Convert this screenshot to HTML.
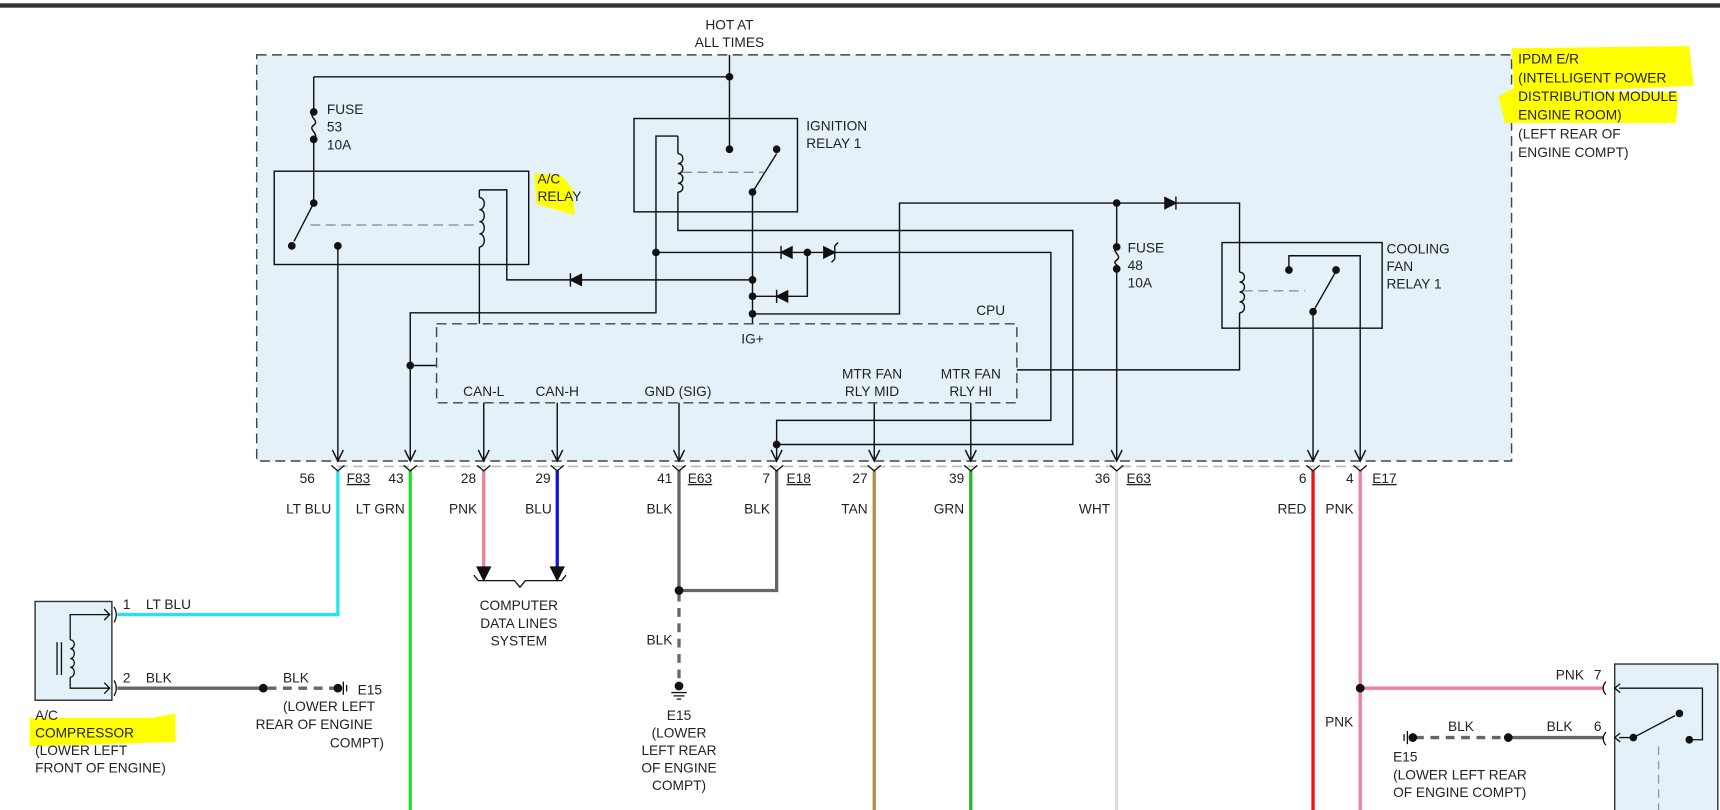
<!DOCTYPE html>
<html><head><meta charset="utf-8"><style>
html,body{margin:0;padding:0;background:#fff;}
svg{display:block;}
text{font-family:"Liberation Sans",sans-serif;font-size:12.5px;fill:#222;}
</style></head><body>
<svg width="1720" height="810" viewBox="0 0 1568 738" preserveAspectRatio="none" xmlns="http://www.w3.org/2000/svg">
<rect x="0" y="3" width="1568" height="4" fill="#333"/>
<rect x="234" y="50" width="1144" height="370" fill="#e4f1f8" stroke="#444" stroke-width="1.3" stroke-dasharray="9,5"/>
<path d="M1378,44 L1540,42 L1544,78 L1420,84 L1530,84 L1528,112 L1372,112 L1366,88 L1380,80 Z" fill="#ffff00"/>
<path d="M487,158 L512,160 L522,172 L524,196 L489,186 Z" fill="#ffff00"/>
<path d="M27,654 L140,654 L160,650 L160,676 L27,680 Z" fill="#ffff00"/>
<text x="665" y="27" text-anchor="middle">HOT AT</text>
<text x="665" y="43" text-anchor="middle">ALL TIMES</text>
<g fill="none" stroke="#111" stroke-width="1.3">
<path d="M665,50 V136"/>
<path d="M286,70 H665"/>
<path d="M286,70 V102 M286,127 V185"/>
<path d="M286,102 c-6,4 6,8 0,12 c-6,4 6,8 0,13"/>
<rect x="250" y="156" width="232" height="85"/>
<path d="M286,185 L268,220"/>
<path d="M308,224 V420"/>
<path d="M437,173 V180 M437,225 V295 M437,173 H462 V255 H686"/>
<path d="M437,180 c6,0 6,11 0,11 c6,0 6,11 0,11 c6,0 6,11 0,11 c6,0 6,12 0,12"/>
<rect x="578" y="108" width="149" height="85"/>
<path d="M618,124 H598 V285 H374 V420"/>
<path d="M618,124 V140 M618,175 V210 H978 V405 H708"/>
<path d="M618,140 c6,0 6,9 0,9 c6,0 6,9 0,9 c6,0 6,9 0,9 c6,0 6,8 0,8"/>
<path d="M686,175 L708,140"/>
<path d="M686,175 V295"/>
<path d="M598,230 H958 V383 H708 V420"/>
<path d="M736,230 V270 H686"/>
<path d="M686,286 H820 V185 H1130 V248 M1130,285 V337 H927"/>
<path d="M1130,248 c6,0 6,9 0,9 c6,0 6,9 0,9 c6,0 6,9 0,9 c6,0 6,10 0,10"/>
<path d="M1018,185 V225 M1018,245 V420"/>
<path d="M1018,225 c-6,4 6,8 0,12 c-6,4 6,5 0,8"/>
<rect x="1114" y="221" width="146" height="78"/>
<path d="M1175,246 V233 H1240 V420"/>
<path d="M1197,284 L1218,247"/>
<path d="M1197,284 V420"/>
<path d="M374,333 H398"/>
<path d="M441,367 V420 M508,367 V420 M619,367 V420 M797,367 V420 M885,367 V420"/>
<path d="M303,410 L308,420 L313,410 M369,410 L374,420 L379,410 M436,410 L441,420 L446,410 M503,410 L508,420 L513,410 M614,410 L619,420 L624,410 M703,410 L708,420 L713,410 M792,410 L797,420 L802,410 M880,410 L885,420 L890,410 M1013,410 L1018,420 L1023,410 M1192,410 L1197,420 L1202,410 M1235,410 L1240,420 L1245,410"/>
</g>
<g fill="none" stroke="#888" stroke-width="1.2" stroke-dasharray="9,5">
<path d="M283,205 H437"/><path d="M622,157 H697"/><path d="M1133,265 H1190"/>
</g>
<rect x="398" y="295" width="529" height="72" fill="none" stroke="#444" stroke-width="1.3" stroke-dasharray="9,5"/>
<g fill="#111" stroke="#111" stroke-width="1.3">
<path d="M520,255 L530,250 V260 Z"/><path d="M520,249 V261"/>
<path d="M712,230 L722,225 V235 Z"/><path d="M712,224 V236"/>
<path d="M761,230 L751,225 V235 Z"/><path d="M761,224 V236 M761,224 l3,-3 M761,236 l-3,3" fill="none"/>
<path d="M708,270 L718,265 V275 Z"/><path d="M708,264 V276"/>
<path d="M1072,185 L1062,180 V190 Z"/><path d="M1072,179 V191"/>
</g>
<g fill="#111">
<circle cx="665" cy="70" r="3.5"/><circle cx="665" cy="136" r="3.5"/>
<circle cx="286" cy="102" r="3.5"/><circle cx="286" cy="127" r="3.5"/>
<circle cx="286" cy="185" r="3.5"/><circle cx="266" cy="224" r="3.5"/><circle cx="308" cy="224" r="3.5"/>
<circle cx="708" cy="136" r="3.5"/><circle cx="686" cy="175" r="3.5"/>
<circle cx="598" cy="230" r="3.5"/><circle cx="736" cy="230" r="3.5"/>
<circle cx="686" cy="255" r="3.5"/><circle cx="686" cy="270" r="3.5"/><circle cx="686" cy="286" r="3.5"/>
<circle cx="374" cy="333" r="3.5"/><circle cx="708" cy="405" r="3.5"/>
<circle cx="1018" cy="185" r="3.5"/><circle cx="1018" cy="225" r="3.5"/><circle cx="1018" cy="245" r="3.5"/>
<circle cx="1175" cy="246" r="3.5"/><circle cx="1218" cy="246" r="3.5"/><circle cx="1197" cy="284" r="3.5"/>
</g>
<text x="298" y="104">FUSE</text><text x="298" y="120">53</text><text x="298" y="136">10A</text>
<text x="490" y="167">A/C</text><text x="490" y="183">RELAY</text>
<text x="735" y="119">IGNITION</text><text x="735" y="135">RELAY 1</text>
<text x="1028" y="230">FUSE</text><text x="1028" y="246">48</text><text x="1028" y="262">10A</text>
<text x="1264" y="231">COOLING</text><text x="1264" y="247">FAN</text><text x="1264" y="263">RELAY 1</text>
<text x="890" y="287">CPU</text><text x="686" y="313" text-anchor="middle">IG+</text>
<text x="441" y="361" text-anchor="middle">CAN-L</text><text x="508" y="361" text-anchor="middle">CAN-H</text>
<text x="618" y="361" text-anchor="middle">GND (SIG)</text>
<text x="795" y="345" text-anchor="middle">MTR FAN</text><text x="795" y="361" text-anchor="middle">RLY MID</text>
<text x="885" y="345" text-anchor="middle">MTR FAN</text><text x="885" y="361" text-anchor="middle">RLY HI</text>
<text x="1384" y="58">IPDM E/R</text><text x="1384" y="75">(INTELLIGENT POWER</text><text x="1384" y="92">DISTRIBUTION MODULE</text><text x="1384" y="109">ENGINE ROOM)</text><text x="1384" y="126">(LEFT REAR OF</text><text x="1384" y="143">ENGINE COMPT)</text>
<path d="M308,425 H1240" stroke="#bbb" stroke-width="1.5" stroke-dasharray="9,5"/>
<g fill="none" stroke-width="3">
<path d="M308,428 V560 H107" stroke="#22e4f0"/>
<path d="M374,428 V738" stroke="#22dd22"/>
<path d="M441,428 V518" stroke="#f08098"/>
<path d="M508,428 V518" stroke="#1010ee"/>
<path d="M619,428 V538" stroke="#666"/>
<path d="M708,428 V538 H622" stroke="#666"/>
<path d="M797,428 V738" stroke="#b08a4a"/>
<path d="M885,428 V738" stroke="#22bb22"/>
<path d="M1018,428 V738" stroke="#dddddd"/>
<path d="M1197,428 V738" stroke="#ee1111"/>
<path d="M1240,428 V738 M1240,627 H1462" stroke="#f08098"/>
<path d="M107,627 H240 M1375,672 H1462" stroke="#666"/>
<path d="M619,540 V622 M244,627 H305 M1290,672 H1372" stroke="#666" stroke-dasharray="8,6"/>
</g>
<g fill="none" stroke="#111" stroke-width="1.2">
<path d="M302,424 l6,5 l6,-5 M368,424 l6,5 l6,-5 M435,424 l6,5 l6,-5 M502,424 l6,5 l6,-5 M613,424 l6,5 l6,-5 M702,424 l6,5 l6,-5 M791,424 l6,5 l6,-5 M879,424 l6,5 l6,-5 M1012,424 l6,5 l6,-5 M1191,424 l6,5 l6,-5 M1234,424 l6,5 l6,-5"/>
<path d="M432,524 l4,5 h33 l5,6 l5,-6 h33 l4,-5"/>
</g>
<g fill="#111">
<path d="M434,516 H448 L441,530 Z"/><path d="M501,516 H515 L508,530 Z"/>
<circle cx="619" cy="538" r="4"/><circle cx="240" cy="627" r="4"/><circle cx="308" cy="627" r="4"/>
<circle cx="619" cy="625" r="4"/><circle cx="1240" cy="627" r="4"/><circle cx="1375" cy="672" r="4"/><circle cx="1288" cy="672" r="4"/>
</g>
<g stroke="#111" stroke-width="1.2">
<path d="M612,631 h14 M614,634 h10 M617,637 h4"/>
<path d="M313,621 V633 M316,624 V630"/>
<path d="M1283,666 V678 M1280,669 V675"/>
</g>
<g font-size="12">
<text x="287" y="440" text-anchor="end">56</text><text x="316" y="440" text-decoration="underline">F83</text>
<text x="368" y="440" text-anchor="end">43</text><text x="434" y="440" text-anchor="end">28</text><text x="502" y="440" text-anchor="end">29</text>
<text x="613" y="440" text-anchor="end">41</text><text x="627" y="440" text-decoration="underline">E63</text>
<text x="702" y="440" text-anchor="end">7</text><text x="717" y="440" text-decoration="underline">E18</text>
<text x="791" y="440" text-anchor="end">27</text><text x="879" y="440" text-anchor="end">39</text>
<text x="1012" y="440" text-anchor="end">36</text><text x="1027" y="440" text-decoration="underline">E63</text>
<text x="1191" y="440" text-anchor="end">6</text><text x="1234" y="440" text-anchor="end">4</text><text x="1251" y="440" text-decoration="underline">E17</text>
</g>
<text x="302" y="468" text-anchor="end">LT BLU</text><text x="369" y="468" text-anchor="end">LT GRN</text>
<text x="435" y="468" text-anchor="end">PNK</text><text x="503" y="468" text-anchor="end">BLU</text>
<text x="613" y="468" text-anchor="end">BLK</text><text x="702" y="468" text-anchor="end">BLK</text>
<text x="791" y="468" text-anchor="end">TAN</text><text x="879" y="468" text-anchor="end">GRN</text>
<text x="1012" y="468" text-anchor="end">WHT</text><text x="1191" y="468" text-anchor="end">RED</text><text x="1234" y="468" text-anchor="end">PNK</text>
<text x="473" y="556" text-anchor="middle">COMPUTER</text><text x="473" y="572" text-anchor="middle">DATA LINES</text><text x="473" y="588" text-anchor="middle">SYSTEM</text>
<text x="613" y="587" text-anchor="end">BLK</text>
<text x="619" y="656" text-anchor="middle">E15</text><text x="619" y="672" text-anchor="middle">(LOWER</text><text x="619" y="688" text-anchor="middle">LEFT REAR</text><text x="619" y="704" text-anchor="middle">OF ENGINE</text><text x="619" y="720" text-anchor="middle">COMPT)</text>
<rect x="32" y="548" width="70" height="90" fill="#e4f1f8" stroke="#333" stroke-width="1.3"/>
<g fill="none" stroke="#111" stroke-width="1.2">
<path d="M100,560 H64 V583 M64,617 V627 H100 M95,555 l5,5 l-5,5 M95,622 l5,5 l-5,5"/>
<path d="M64,583 c5,0 5,8 0,8 c5,0 5,9 0,9 c5,0 5,8 0,8 c5,0 5,9 0,9"/>
<path d="M52,585 V615 M56,585 V615"/>
<path d="M104,553 q4,7 0,14 M104,620 q4,7 0,14"/>
</g>
<text x="112" y="555">1</text><text x="133" y="555">LT BLU</text>
<text x="112" y="622">2</text><text x="133" y="622">BLK</text>
<text x="258" y="622">BLK</text>
<text x="326" y="633">E15</text><text x="258" y="648">(LOWER LEFT</text><text x="233" y="664">REAR OF ENGINE</text><text x="350" y="681" text-anchor="end">COMPT)</text>
<text x="32" y="656">A/C</text><text x="32" y="672">COMPRESSOR</text><text x="32" y="688">(LOWER LEFT</text><text x="32" y="704">FRONT OF ENGINE)</text>
<rect x="1472" y="605" width="94" height="140" fill="#e4f1f8" stroke="#333" stroke-width="1.3"/>
<g fill="none" stroke="#111" stroke-width="1.2">
<path d="M1464,621 q-5,6 0,12 M1464,667 q-5,6 0,12"/>
<path d="M1476,627 H1552 V674 H1540 M1476,672 H1489 L1527,652"/>
<path d="M1477,623 l-5,4 l5,4 M1477,668 l-5,4 l5,4"/>
</g>
<path d="M1512,680 V738" stroke="#999" stroke-width="1.2" stroke-dasharray="8,5"/>
<g fill="#111"><circle cx="1489" cy="672" r="3.5"/><circle cx="1531" cy="650" r="3.5"/><circle cx="1540" cy="674" r="3.5"/></g>
<text x="1444" y="619" text-anchor="end">PNK</text><text x="1453" y="619">7</text>
<text x="1208" y="662">PNK</text>
<text x="1320" y="666">BLK</text><text x="1410" y="666">BLK</text><text x="1453" y="666">6</text>
<text x="1270" y="694">E15</text><text x="1270" y="710">(LOWER LEFT REAR</text><text x="1270" y="726">OF ENGINE COMPT)</text>
</svg>
</body></html>
